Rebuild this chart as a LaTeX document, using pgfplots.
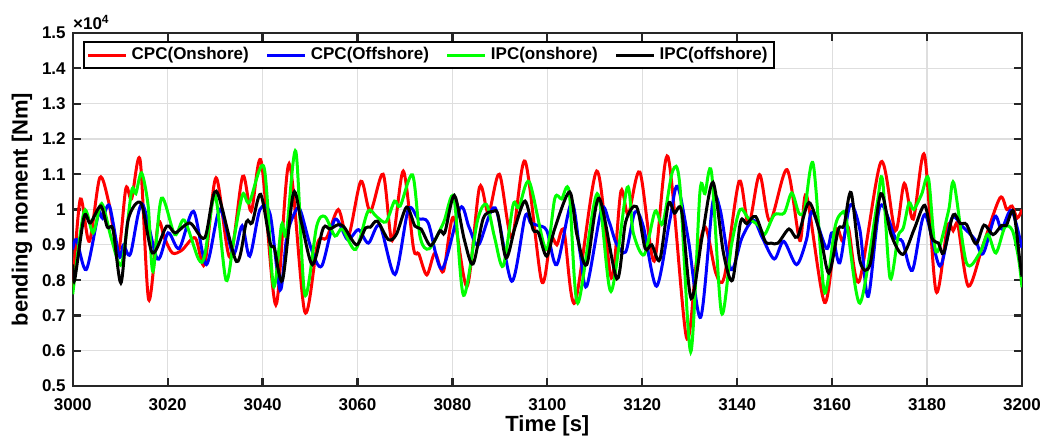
\documentclass[border=0pt]{standalone}
\usepackage{pgfplots}
\pgfplotsset{compat=1.18}
\usepackage{fontspec}
\setmainfont{Liberation Sans}
\definecolor{mgreen}{rgb}{0,1,0}
\begin{document}
\begin{tikzpicture}
\begin{axis}[
  name=ax,
  scale only axis,
  width=474.5pt, height=176.5pt,
  xmin=3000, xmax=3200, ymin=5000, ymax=15000,
  xtick={3000,3020,...,3200},
  ytick={5000,6000,...,15000},
  scaled x ticks=false,
  scaled y ticks=base 10:-4,
  ytick scale label code/.code={},
  /pgf/number format/assume math mode=true,
  /pgf/number format/1000 sep={},
  tick label style={font=\bfseries\fontsize{8.5}{10}\selectfont},
  xticklabel style={yshift=-2.5pt},
  label style={font=\bfseries\fontsize{11}{13}\selectfont},
  xlabel={Time [s]},
  ylabel={bending moment [Nm]},
  xlabel style={at={(axis description cs:0.5,-0.112)}, anchor=center},
  ylabel style={at={(axis description cs:-0.0534,0.5)}, anchor=center},
  grid=major,
  major grid style={draw=black!13, line width=0.6pt},
  axis line style={draw=black!85, line width=1.1pt},
  every tick/.style={draw=black!85, line width=1.1pt},
  tick align=inside,
  major tick length=4pt,
  clip=true,
  legend columns=4,
  legend cell align=left,
  legend style={at={(0.0105,0.976)}, anchor=north west, draw=black, line width=1pt,
    font=\bfseries\fontsize{8.5}{10}\selectfont, inner xsep=1.5pt, inner ysep=0.5pt,
    /tikz/every even column/.append style={column sep=6.5pt}},
  legend image code/.code={\draw[#1] (0pt,0pt) -- (19pt,0pt);},
  every axis plot/.append style={line width=1.5pt, smooth},
]
% CPC (Onshore)
\addplot[red] coordinates {
(3000,7800) (3001.6,10300) (3003.5,9100) (3005.7,10900) (3007.6,10200) (3009.6,8800)
(3011.2,10600) (3012.4,10300) (3014.2,11400) (3016.0,7450) (3018.0,9600) (3019.3,9200)
(3021.0,8770) (3023.0,8850) (3025.8,9200) (3027.8,8450) (3030.2,10900) (3033.1,8650)
(3035.8,10940) (3037.6,9950) (3039.7,11370) (3042.8,7300) (3045.6,11300) (3048.9,7100)
(3051.6,9050) (3053.5,9200) (3055.96,10000) (3058.0,9200) (3060.7,10800) (3062.7,9950)
(3065.4,11000) (3067.3,9120) (3069.65,11090) (3071.8,8900) (3072.9,8750) (3074.6,8150)
(3076.3,8770) (3078.1,8250) (3080.2,9780) (3083.1,7830) (3085.7,10630) (3087.6,9900)
(3089.9,11000) (3092.5,9200) (3095.3,11370) (3098.8,7970) (3100.7,9200) (3102.0,9000)
(3103.5,9400) (3105.8,7360) (3110.4,11090) (3113.5,8060) (3115.5,10520) (3117.05,9860)
(3119.5,11060) (3122.5,8540) (3125.4,11500) (3129.3,6380) (3131.4,8500) (3133.3,9500)
(3135.5,8200) (3137.3,8100) (3140.4,10800) (3142.4,9570) (3144.7,10990) (3146.9,9670)
(3150.5,11130) (3153.2,9120) (3154.6,10400) (3158.4,7370) (3160.8,9400) (3162.2,9100)
(3163.4,9500) (3165.7,7970) (3170.3,11350) (3173.3,9400) (3175.2,10740) (3177.1,9730)
(3179.45,11550) (3181.9,7680) (3184.3,9530) (3185.5,9400) (3186.5,9550) (3188.7,7830)
(3191.8,9000) (3195.35,10330) (3196.8,10000) (3197.9,10100) (3199.0,9760) (3200,10000)
};
\addlegendentry{CPC(Onshore)}
% CPC (Offshore)
\addplot[blue] coordinates {
(3000,8870) (3000.8,9150) (3002.85,8300) (3005.4,9860) (3006.3,9750) (3007.75,10100)
(3009.8,8680) (3010.7,9000) (3012.15,8740) (3014.6,10160) (3017.85,8600) (3020.1,9340)
(3022.45,8900) (3025.45,9950) (3028.15,8440) (3031.0,10000) (3033.8,8730) (3035.7,9540)
(3037.3,8680) (3039.45,10000) (3041.6,9860) (3043.7,7720) (3045.1,9240) (3046.7,9890)
(3047.9,10000) (3050.3,8870) (3052.45,8400) (3055.25,9720) (3057.9,9150) (3060.2,9430)
(3062.3,9050) (3064.7,9550) (3067.9,8160) (3070.7,10000) (3072.8,9740) (3074.9,9620)
(3077.8,8320) (3081.65,10050) (3083.5,9500) (3085.5,9000) (3089.0,10050) (3092.5,7970)
(3095.3,9800) (3096.5,9620) (3098.0,9550) (3099.9,9400) (3102.0,8440) (3105.1,10200)
(3106.9,8770) (3108.3,7830) (3111.4,10000) (3113.0,9660) (3114.5,9050) (3116.5,8800)
(3118.45,9930) (3120.2,9530) (3123.0,7830) (3125.8,9700) (3127.4,10660) (3129.7,9150)
(3132.3,6950) (3134.85,10200) (3136.4,10000) (3138.7,8300) (3141.0,9200) (3143.4,9700)
(3145.3,9200) (3147.8,8600) (3149.8,9100) (3152.5,8440) (3154.6,9150) (3155.8,9950)
(3158.8,8900) (3160.0,9340) (3161.6,8490) (3163.75,10120) (3165.85,9420) (3167.6,7540)
(3170.1,10100) (3173.3,9200) (3174.8,9100) (3176.9,8280) (3179.5,9860) (3182.7,8400)
(3185.2,9750) (3187.6,9500) (3190.1,9150) (3191.8,8750) (3194.3,9800) (3195.7,9450)
(3197.8,9980) (3200,8910)
};
\addlegendentry{CPC(Offshore)}
% IPC (onshore)
\addplot[mgreen] coordinates {
(3000,7600) (3002.4,9950) (3004.3,9340) (3006.1,10170) (3008.2,9150) (3010.3,8460)
(3012.4,10520) (3013.3,10450) (3014.5,11040) (3015.9,10100) (3016.9,8250) (3018.7,10320)
(3021.5,9290) (3023.5,9700) (3026.5,8600) (3027.8,8700) (3030.0,10400) (3032.3,8000)
(3034.0,9200) (3035.8,10430) (3037.2,10200) (3040.3,11200) (3042.3,7830) (3044.0,9570)
(3045.0,9300) (3047.0,11650) (3048.9,7590) (3051.4,9530) (3053.15,9800) (3055.25,9250)
(3056.8,9450) (3059.6,8870) (3062.2,9950) (3064.0,9800) (3066.0,9650) (3067.8,10240)
(3069.0,10100) (3071.6,10980) (3073.2,9220) (3075.1,8890) (3078.1,9620) (3080.3,10340)
(3082.35,7570) (3085.3,9700) (3087.2,10140) (3088.9,9200) (3090.7,8400) (3092.8,10140)
(3094.0,10050) (3096.2,10780) (3099.7,8870) (3101.6,10330) (3103.0,10300) (3104.6,10500)
(3106.4,7350) (3110.5,10450) (3113.4,7680) (3116.8,10620) (3118.1,9340) (3120.4,8720)
(3122.7,9950) (3124.3,9600) (3126.4,11090) (3127.9,10710) (3130.2,5970) (3132.15,10500)
(3133.2,10450) (3134.6,11040) (3136.7,7070) (3138.8,9000) (3140.6,10000) (3142.3,9760)
(3144.5,9550) (3145.8,9300) (3147.8,9850) (3149.9,9900) (3151.5,10470) (3153.0,9900)
(3154.2,10000) (3156.0,11300) (3158.1,7900) (3159.0,7900) (3160.6,9500) (3162.0,9900)
(3163.0,9700) (3165.85,7350) (3169.4,10100) (3170.6,10860) (3172.2,8060) (3173.9,9240)
(3175.0,9480) (3176.2,10190) (3177.2,10000) (3178.85,10430) (3180.3,10880) (3181.9,8800)
(3184.5,9950) (3185.65,10750) (3188.3,8490) (3191.1,8770) (3192.8,9300) (3194.5,8770)
(3196.4,9500) (3198.0,9400) (3199.3,8600) (3200,7800)
};
\addlegendentry{IPC(onshore)}
% IPC (offshore)
\addplot[black] coordinates {
(3000,8450) (3000.4,8000) (3002.4,9800) (3003.7,9620) (3005.9,10100) (3007.3,9500)
(3008.5,9430) (3010.15,7920) (3011.7,9720) (3014.4,10180) (3016.8,8770) (3019.8,9530)
(3021.6,9340) (3024.7,9620) (3027.8,9200) (3030.25,10520) (3034.5,8530) (3036.6,9650)
(3037.8,9620) (3039.6,10430) (3041.6,9050) (3042.5,8900) (3044.2,8000) (3046.5,10470)
(3048.2,9620) (3050.5,8440) (3052.8,9480) (3054.2,9450) (3055.9,9570) (3057.2,9500)
(3059.8,9000) (3061.7,9480) (3062.7,9500) (3064.2,9670) (3066.5,9150) (3068.2,9300)
(3070.35,10070) (3072.1,9530) (3073.4,9450) (3075.4,8980) (3077.4,9400) (3078.4,9350)
(3080.4,10400) (3082.5,9150) (3084.35,8460) (3086.5,9750) (3088.6,9950) (3089.6,9850)
(3091.3,8630) (3093.2,9500) (3095.3,10240) (3097.0,9430) (3098.1,9350) (3099.85,8680)
(3101.6,9480) (3104.7,10500) (3106.2,9300) (3108.3,8440) (3110.9,10320) (3114.65,8040)
(3116.5,9650) (3118.8,10080) (3120.6,8900) (3122.0,9000) (3123.7,8580) (3125.5,10160)
(3126.8,9900) (3128.3,9950) (3130.3,7480) (3132.6,9220) (3134.9,10770) (3137.1,8770)
(3139.0,8000) (3140.7,9650) (3142.0,9600) (3143.9,9800) (3145.9,9100) (3147.2,9050)
(3148.6,9050) (3150.9,9450) (3152.7,9220) (3155.1,10200) (3157.4,9350) (3159.3,8200)
(3161.3,9430) (3162.5,9550) (3164.0,10480) (3165.9,8520) (3168.0,8450) (3170.25,10450)
(3172.4,9300) (3174.9,8730) (3177.3,9450) (3179.5,10120) (3181.0,9200) (3182.4,9050)
(3183.5,8770) (3185.5,9850) (3187.0,9600) (3188.3,9580) (3190.3,9030) (3192.0,9560)
(3193.9,9290) (3195.7,9550) (3196.7,9550) (3198.2,9950) (3199.5,8600) (3200,8100)
};
\addlegendentry{IPC(offshore)}
\end{axis}
\node[anchor=base west, inner sep=0pt, font=\bfseries\fontsize{8.5}{10}\selectfont]
  at ([yshift=2pt]ax.north west) {×10\textsuperscript{4}};
\path (ax.south west) ++(-36.35pt,-24pt) rectangle ([xshift=19.5pt,yshift=16.5pt]ax.north east);
\end{tikzpicture}
\end{document}
